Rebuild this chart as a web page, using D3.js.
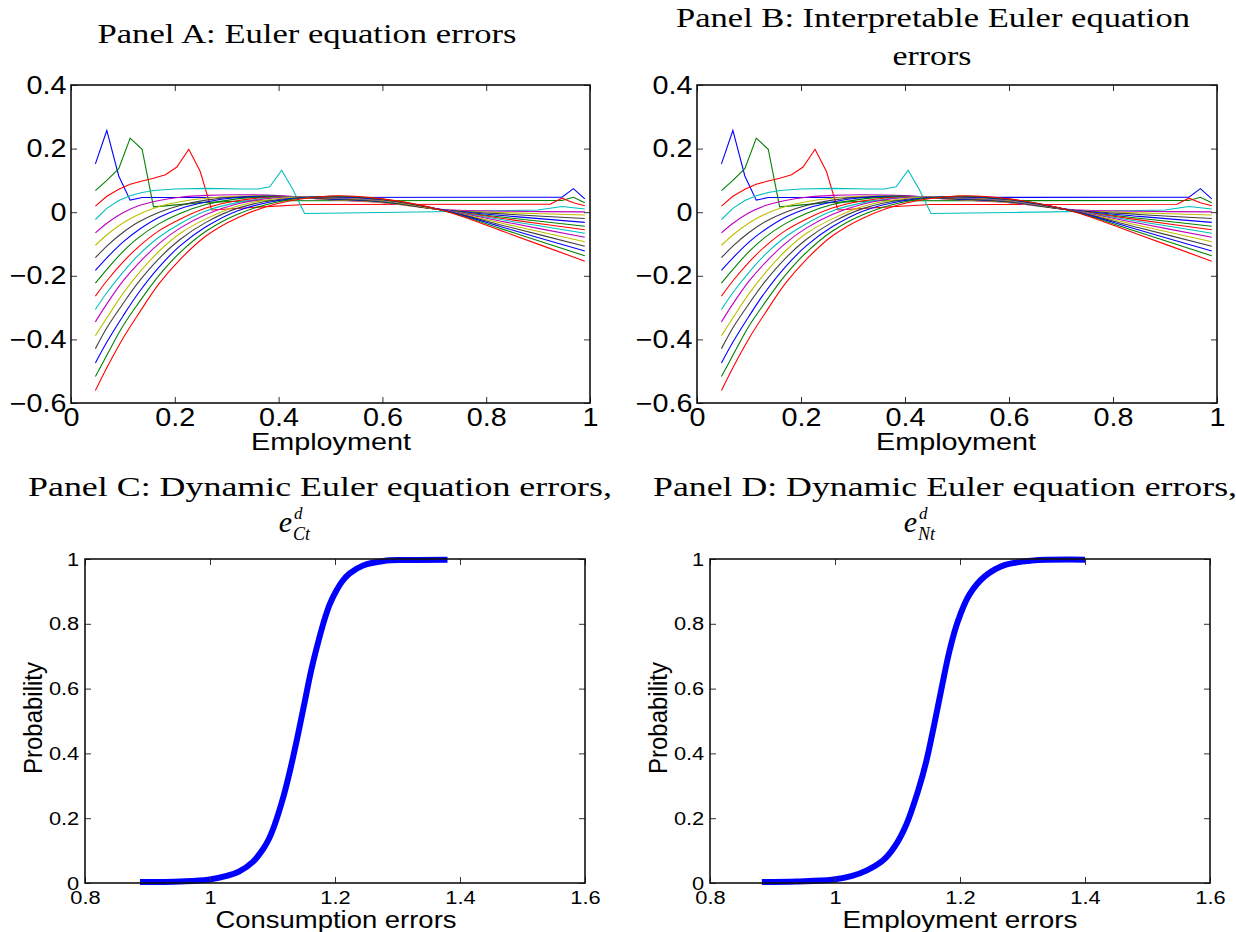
<!DOCTYPE html>
<html><head><meta charset="utf-8">
<script src="https://cdn.jsdelivr.net/npm/d3@7"></script>
<style>body{margin:0;background:#fff}svg{display:block}</style>
</head><body>
<svg id="chart" width="1236" height="932"></svg>
<script>
// ---------------- DATA ----------------
// Panels A & B: Euler equation errors vs employment (17 lines)
const lineColors = ["#0000ff","#008000","#ff0000","#00bfbf","#bf00bf","#bfbf00","#404040"];

// kinked lines (piecewise linear)
const k1x = [0.047,0.069,0.092,0.114,0.137,0.946,0.968,0.990];
const k1y = [0.152,0.257,0.114,0.038,0.046,0.047,0.074,0.042];
const k2x = [0.047,0.069,0.092,0.114,0.137,0.159,0.182,0.25,0.35,0.946,0.968,0.990];
const k2y = [0.068,0.100,0.137,0.233,0.198,0.017,0.020,0.030,0.036,0.037,0.047,0.030];
const k3x = [0.047,0.069,0.092,0.114,0.137,0.159,0.182,0.204,0.227,0.249,0.271,0.35,0.45,0.923,0.946,0.968,0.990];
const k3y = [0.019,0.050,0.072,0.088,0.098,0.107,0.118,0.142,0.198,0.128,0.007,0.015,0.024,0.025,0.044,0.030,0.020];
const k4x = [0.047,0.069,0.092,0.114,0.137,0.16,0.2,0.26,0.33,0.361,0.383,0.406,0.428,0.450,0.6,0.8,0.90,0.946,0.99];
const k4y = [-0.023,0.012,0.037,0.052,0.062,0.068,0.073,0.075,0.073,0.073,0.080,0.132,0.070,-0.004,-0.001,0.004,0.007,0.018,0.010];

// smooth lines share an x grid
const xSmooth = [0.047,0.07,0.1,0.13,0.17,0.21,0.26,0.32,0.4,0.5,0.6,0.72,0.85,0.99];
const s5  = [-0.065,-0.034,-0.002,0.020,0.037,0.047,0.053,0.055,0.052,0.039,0.030,0.008,0.003,0.001];
const s6  = [-0.104,-0.070,-0.034,-0.007,0.018,0.033,0.044,0.050,0.050,0.040,0.031,0.007,-0.002,-0.009];
const s7  = [-0.143,-0.105,-0.064,-0.031,0.000,0.021,0.038,0.048,0.050,0.041,0.032,0.007,-0.007,-0.020];
const s8  = [-0.183,-0.142,-0.094,-0.056,-0.016,0.011,0.032,0.046,0.050,0.042,0.033,0.007,-0.013,-0.032];
const s9  = [-0.223,-0.178,-0.124,-0.080,-0.036,-0.004,0.024,0.042,0.049,0.043,0.034,0.006,-0.019,-0.044];
const s10 = [-0.264,-0.214,-0.157,-0.109,-0.058,-0.022,0.013,0.036,0.048,0.044,0.035,0.006,-0.024,-0.055];
const s11 = [-0.306,-0.251,-0.189,-0.135,-0.078,-0.036,0.004,0.030,0.047,0.045,0.036,0.006,-0.029,-0.066];
const s12 = [-0.345,-0.286,-0.217,-0.161,-0.098,-0.050,-0.007,0.026,0.046,0.046,0.037,0.006,-0.035,-0.079];
const s13 = [-0.388,-0.330,-0.256,-0.193,-0.122,-0.067,-0.021,0.019,0.043,0.047,0.038,0.005,-0.042,-0.093];
const s14 = [-0.429,-0.361,-0.288,-0.220,-0.145,-0.086,-0.032,0.012,0.040,0.048,0.039,0.005,-0.049,-0.107];
const s15 = [-0.474,-0.406,-0.327,-0.254,-0.172,-0.106,-0.046,0.004,0.037,0.049,0.040,0.005,-0.056,-0.122];
const s16 = [-0.517,-0.447,-0.358,-0.286,-0.198,-0.127,-0.060,-0.007,0.033,0.050,0.041,0.004,-0.063,-0.137];
const s17 = [-0.561,-0.486,-0.397,-0.320,-0.224,-0.149,-0.075,-0.018,0.028,0.051,0.042,0.004,-0.071,-0.154];

const eeXTicks = [0,0.2,0.4,0.6,0.8,1];
const eeYTicks = [0.4,0.2,0,-0.2,-0.4,-0.6];

// Panel C: CDF of consumption errors
const cdfCx = [0.888,0.953,0.997,1.025,1.047,1.069,1.085,1.094,1.102,1.110,1.118,1.129,1.140,1.151,1.162,1.174,1.184,1.192,1.201,1.212,1.223,1.245,1.278,1.311,1.380];
const cdfCy = [0.003,0.005,0.010,0.021,0.036,0.066,0.105,0.135,0.172,0.218,0.270,0.355,0.451,0.554,0.657,0.750,0.818,0.862,0.898,0.932,0.955,0.980,0.994,0.997,0.998];
// Panel D: CDF of employment errors
const cdfDx = [0.883,0.938,0.995,1.026,1.051,1.077,1.095,1.114,1.133,1.146,1.158,1.171,1.183,1.196,1.215,1.240,1.271,1.315,1.400];
const cdfDy = [0.003,0.005,0.010,0.021,0.039,0.070,0.111,0.180,0.285,0.375,0.482,0.606,0.715,0.805,0.890,0.947,0.981,0.995,0.998];

const cdfXTicks = [0.8,1,1.2,1.4,1.6];
const cdfYTicks = [0,0.2,0.4,0.6,0.8,1];

// ---------------- DRAW ----------------
const svg = d3.select("#chart");
const SANS = "'Liberation Sans', Arial, Helvetica, sans-serif";
const SERIF = "'Liberation Serif', 'Times New Roman', serif";
const fmt = d3.format("~g");

function zip(xs, ys){ return xs.map((x,i)=>[x, ys[i]]); }

const kinked = [zip(k1x,k1y), zip(k2x,k2y), zip(k3x,k3y), zip(k4x,k4y)];
const smooth = [s5,s6,s7,s8,s9,s10,s11,s12,s13,s14,s15,s16,s17].map(s=>zip(xSmooth,s));

function frame(g, x, y, xTicks, yTicks, o){
  const w = x.range()[1]-x.range()[0], h = y.range()[0]-y.range()[1];
  const x0 = x.range()[0], yT = y.range()[1], yB = y.range()[0], x1 = x.range()[1];
  const axes = [
    [d3.axisBottom(x).tickValues(xTicks), `translate(0,${yB})`, true, "b"],
    [d3.axisTop(x).tickValues(xTicks), `translate(0,${yT})`, false, "t"],
    [d3.axisLeft(y).tickValues(yTicks), `translate(${x0},0)`, true, "l"],
    [d3.axisRight(y).tickValues(yTicks), `translate(${x1},0)`, false, "r"]
  ];
  axes.forEach(([ax, tr, lab, side])=>{
    ax.tickSize(-o.tick).tickSizeOuter(0).tickPadding(side==="b"?o.padB:o.padL);
    ax.tickFormat(lab ? fmt : "");
    const ag = g.append("g").attr("transform", tr).call(ax);
    ag.select(".domain").remove();
    ag.selectAll(".tick line").attr("stroke","#333").attr("stroke-width",1);
    ag.selectAll(".tick text").attr("font-family",SANS).attr("font-size",o.fs)
      .attr("fill","#000").attr("transform",`scale(${o.k},1)`);
  });
  g.append("rect").attr("x",x0).attr("y",yT).attr("width",w).attr("height",h)
    .attr("fill","none").attr("stroke","#111").attr("stroke-width",1.6);
}

function eePanel(px0, px1){
  const g = svg.append("g");
  const x = d3.scaleLinear().domain([0,1]).range([px0,px1]);
  const y = d3.scaleLinear().domain([-0.6,0.4]).range([403,85]);
  const lin = d3.line().x(d=>x(d[0])).y(d=>y(d[1]));
  const sm = d3.line().x(d=>x(d[0])).y(d=>y(d[1])).curve(d3.curveCatmullRom.alpha(0.5));
  const all = kinked.map(d=>({d, f:lin})).concat(smooth.map(d=>({d, f:sm})));
  all.forEach((s,i)=>{
    g.append("path").attr("d", s.f(s.d)).attr("fill","none")
      .attr("stroke", lineColors[i%7]).attr("stroke-width",1.1);
  });
  frame(g, x, y, eeXTicks, eeYTicks, {tick:6, fs:25, k:1.15, padB:5, padL:4});
  return g;
}

function cdfPanel(px0, px1, xs, ys){
  const g = svg.append("g");
  const x = d3.scaleLinear().domain([0.8,1.6]).range([px0,px1]);
  const y = d3.scaleLinear().domain([0,1]).range([883,559]);
  const sm = d3.line().x(d=>x(d[0])).y(d=>y(d[1])).curve(d3.curveCatmullRom.alpha(0.5));
  g.append("path").attr("d", sm(zip(xs,ys))).attr("fill","none")
    .attr("stroke","#0000ff").attr("stroke-width",6).attr("stroke-linejoin","round");
  frame(g, x, y, cdfXTicks, cdfYTicks, {tick:6, fs:19, k:1.15, padB:8, padL:5});
  return g;
}

eePanel(71, 590);
eePanel(697, 1217);
cdfPanel(85, 585, cdfCx, cdfCy);
cdfPanel(710, 1210, cdfDx, cdfDy);

// ---------------- TEXT ----------------
function txt(t, x, y, opt){
  const e = svg.append("text").attr("x",x).attr("y",y).text(t)
    .attr("font-family", opt.family||SANS).attr("font-size", opt.fs)
    .attr("text-anchor", opt.anchor||"middle").attr("fill","#000");
  if(opt.len) e.attr("textLength",opt.len).attr("lengthAdjust","spacingAndGlyphs");
  if(opt.style) e.attr("font-style",opt.style);
  if(opt.rot) e.attr("transform",`rotate(-90,${x},${y})`);
  return e;
}
// titles
txt("Panel A: Euler equation errors", 307, 43, {family:SERIF, fs:27, len:419});
txt("Panel B: Interpretable Euler equation", 933, 27, {family:SERIF, fs:27, len:514});
txt("errors", 932, 65, {family:SERIF, fs:27, len:79});
txt("Panel C: Dynamic Euler equation errors,", 320, 496, {family:SERIF, fs:27, len:584});
txt("Panel D: Dynamic Euler equation errors,", 945, 496, {family:SERIF, fs:27, len:584});
// math subtitles e^d_{Ct}, e^d_{Nt}
[[300,"Ct"],[925,"Nt"]].forEach(([cx,sub])=>{
  txt("e", cx-8, 532, {family:SERIF, fs:30, style:"italic", anchor:"end"});
  txt("d", cx-6, 519, {family:SERIF, fs:17, style:"italic", anchor:"start"});
  txt(sub, cx-7, 540, {family:SERIF, fs:18, style:"italic", anchor:"start"});
});
// axis labels
txt("Employment", 331, 450, {fs:24, len:160});
txt("Employment", 956, 450, {fs:24, len:160});
txt("Consumption errors", 336, 928, {fs:23, len:241});
txt("Employment errors", 960, 928, {fs:23, len:235});
txt("Probability", 42, 718, {fs:25, len:112, rot:true});
txt("Probability", 667, 718, {fs:25, len:112, rot:true});
</script>
</body></html>
